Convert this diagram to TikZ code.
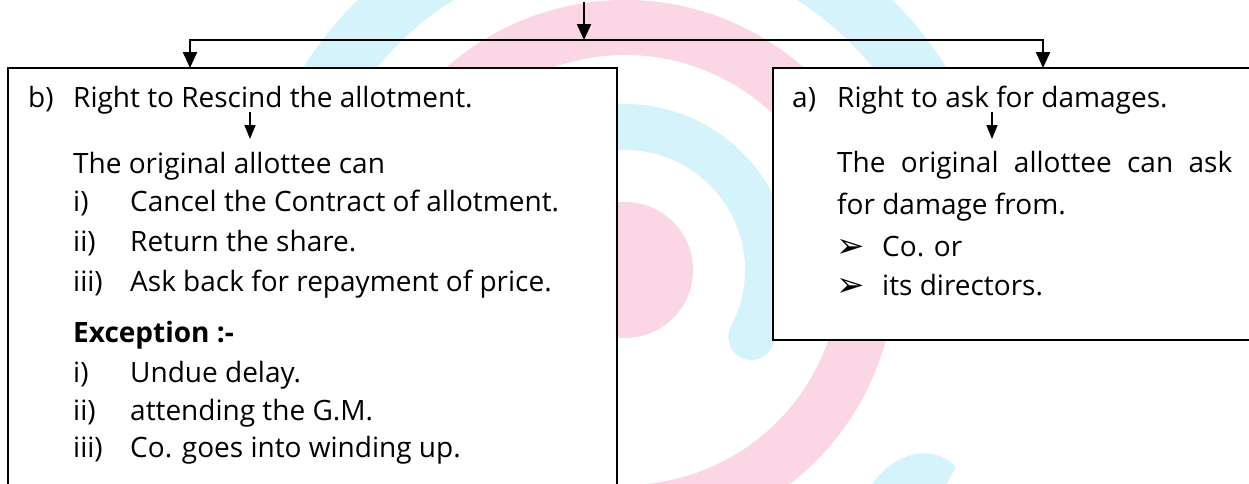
\documentclass[tikz,border=0pt]{standalone}
\usepackage{fontspec}
\setmainfont{Open Sans}
\newfontfamily\symfont{DejaVu Sans}
\usetikzlibrary{arrows.meta}
\definecolor{wmpink}{RGB}{251,214,229}
\definecolor{wmcyan}{RGB}{212,243,251}
\tikzset{
  box/.style={draw=black, line width=2pt, fill=white, rectangle, inner sep=0pt, outer sep=0pt, anchor=north west},
  txt/.style={anchor=base west, inner sep=0pt, font=\fontsize{28}{33}\selectfont},
  bullet/.style={anchor=base west, inner sep=0pt, font=\fontsize{34}{38}\selectfont\symfont},
  arr/.style={line width=2.2pt, -{Triangle[width=14pt,length=16pt]}},
  smallarr/.style={line width=1.6pt, -{Triangle[width=11pt,length=14pt]}},
}
\begin{document}
\begin{tikzpicture}[x=1pt,y=-1pt]
\useasboundingbox (0,0) rectangle (1249,483);
\clip (0,0) rectangle (1249,483);
\fill[white] (0,0) rectangle (1249,483);
% watermark
\begin{scope}[shift={(625,270)}, yscale=-1]
  \fill[wmpink] (150:270) arc[start angle=150, end angle=-120, radius=270]
     -- (-120:215) arc[start angle=-120, end angle=150, radius=215] -- cycle;
  \draw[wmcyan, line width=60pt, line cap=round] (165:350) arc[start angle=165, end angle=-5, radius=350];
  \draw[wmcyan, line width=46pt, line cap=round] (170:143) arc[start angle=170, end angle=-28, radius=143];
  \fill[wmpink] (0,0) circle[radius=68];
\end{scope}
\fill[wmcyan] (866,495) .. controls (885,455) and (930,440) .. (956,467) -- (940,495) -- cycle;
% boxes
\node[box, minimum width=609pt, minimum height=440pt] (L) at (8,68) {};
\node[box, minimum width=500pt, minimum height=272pt] (R) at (773,68) {};
% connectors
\coordinate (src) at (584,2);
\coordinate (j) at (584,40);
\coordinate (hl) at (190,40);
\coordinate (hr) at (1043,40);
\draw[arr] (src) -- (j);
\draw[arr] (j) -| (L.north -| hl);
\draw[arr] (j) -| (R.north -| hr);
% left box text
\node[txt] (b) at (28,107) {b)};
\node[txt] (bt) at (73,107) {Right to Rescind the allotment.};
\coordinate (la1) at (250,112);
\coordinate (la2) at (250,139);
\draw[smallarr] (la1) -- (la2);
\node[txt] (bo) at (73,173) {The original allottee can};
\node[txt] (bi1) at (73,211) {i)};
\node[txt] (bi1t) at (130,211) {Cancel the Contract of allotment.};
\node[txt] (bi2) at (73,251) {ii)};
\node[txt] (bi2t) at (130,251) {Return the share.};
\node[txt] (bi3) at (73,291) {iii)};
\node[txt] (bi3t) at (130,291) {Ask back for repayment of price.};
\node[txt, font=\fontsize{28}{33}\selectfont\bfseries] (ex) at (73,342) {Exception :-};
\node[txt] (be1) at (73,382) {i)};
\node[txt] (be1t) at (130,382) {Undue delay.};
\node[txt] (be2) at (73,420) {ii)};
\node[txt] (be2t) at (130,420) {attending the G.M.};
\node[txt] (be3) at (73,457) {iii)};
\node[txt] (be3t) at (130,457) {Co. goes into winding up.};
% right box text
\node[txt] (a) at (792,107) {a)};
\node[txt] (at) at (837,107) {Right to ask for damages.};
\coordinate (ra1) at (992,112);
\coordinate (ra2) at (992,139);
\draw[smallarr] (ra1) -- (ra2);
\node[txt] (ao) at (837,172) {\makebox[395pt][s]{The original allottee can ask}};
\node[txt] (ao2) at (837,214) {for damage from.};
\node[bullet] (ab1) at (836,257) {➢};
\node[txt] (ab1t) at (882,256) {Co. or};
\node[bullet] (ab2) at (836,296) {➢};
\node[txt] (ab2t) at (882,295) {its directors.};
\end{tikzpicture}
\end{document}
